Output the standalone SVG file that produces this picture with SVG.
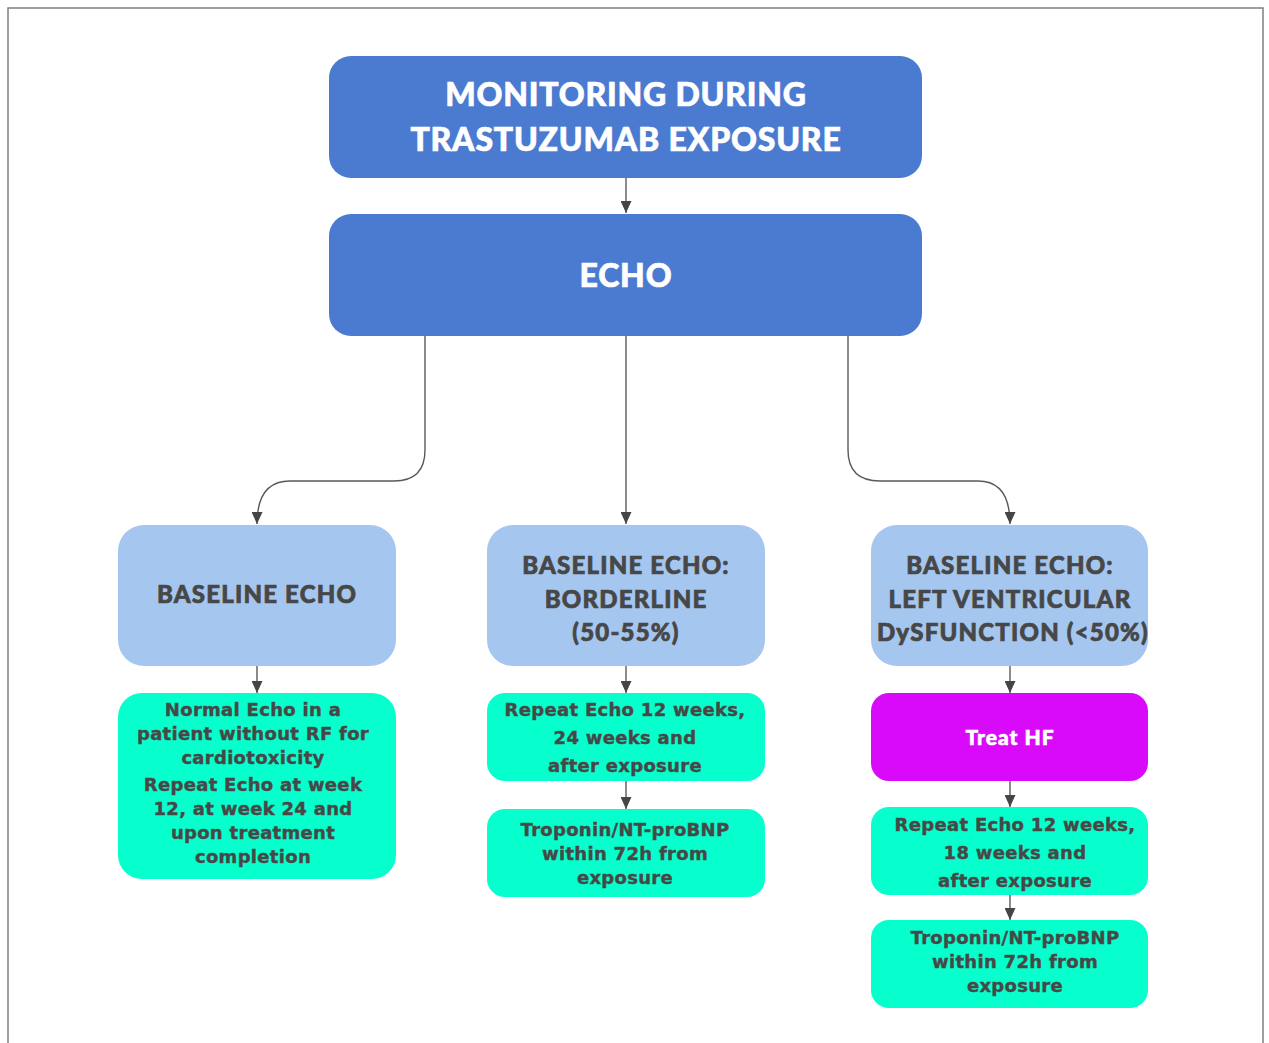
<svg xmlns="http://www.w3.org/2000/svg" width="1269" height="1043" viewBox="0 0 1269 1043">
  <style>
    .frame { fill: none; stroke: #7f7f7f; stroke-width: 1.5; }
    .dark { fill: #4a7bd0; }
    .light { fill: #a5c6ef; }
    .mint { fill: #06ffcc; }
    .magenta { fill: #d80af9; }
    .head { font-family: Lato, "Open Sans", sans-serif; font-weight: 900; text-anchor: middle; }
    .title { fill: #ffffff; stroke: #ffffff; stroke-width: 0.7px; font-size: 32px; letter-spacing: 0.8px; }
    .sub { fill: #474747; stroke: #474747; stroke-width: 0.7px; font-size: 24px; letter-spacing: 1.2px; }
    .hf { fill: #ffffff; stroke: #ffffff; stroke-width: 0.6px; font-size: 21px; letter-spacing: 1px; }
    .body { font-family: "DejaVu Sans", Verdana, sans-serif; font-weight: bold; font-size: 18px; fill: #474747; stroke: #474747; stroke-width: 0.4px; letter-spacing: 0.3px; text-anchor: middle; }
    .wire { fill: none; stroke: #5a5a5a; stroke-width: 1.4; }
  </style>
  <defs>
    <marker id="arrow" viewBox="0 0 12 11" refX="12" refY="5.5" markerWidth="12" markerHeight="11" markerUnits="userSpaceOnUse" orient="auto">
      <path d="M0,0 L12,5.5 L0,11 Z" fill="#454545"/>
    </marker>
  </defs>

  <rect width="1269" height="1043" fill="#ffffff"/>
  <!-- page frame, open at the bottom -->
  <path class="frame" d="M8,1043 V8 H1263 V1043"/>

  <!-- connectors -->
  <g id="connectors">
    <path class="wire" d="M626,178 V213" marker-end="url(#arrow)"/>
    <path class="wire" d="M425,336 V450 Q425,481 394,481 H290 Q257,481 257,524" marker-end="url(#arrow)"/>
    <path class="wire" d="M626,336 V524" marker-end="url(#arrow)"/>
    <path class="wire" d="M848,336 V450 Q848,481 880,481 H978 Q1010,481 1010,524" marker-end="url(#arrow)"/>
    <path class="wire" d="M257,666 V693" marker-end="url(#arrow)"/>
    <path class="wire" d="M626,666 V693" marker-end="url(#arrow)"/>
    <path class="wire" d="M626,781 V809" marker-end="url(#arrow)"/>
    <path class="wire" d="M1010,666 V693" marker-end="url(#arrow)"/>
    <path class="wire" d="M1010,781 V807" marker-end="url(#arrow)"/>
    <path class="wire" d="M1010,895 V920" marker-end="url(#arrow)"/>
  </g>

  <g id="monitoring">
    <rect class="dark" x="329" y="56" width="593" height="122" rx="22"/>
    <text class="head title" x="626" y="106">MONITORING DURING</text>
    <text class="head title" x="626" y="151">TRASTUZUMAB EXPOSURE</text>
  </g>

  <g id="echo">
    <rect class="dark" x="329" y="214" width="593" height="122" rx="22"/>
    <text class="head title" x="626" y="287">ECHO</text>
  </g>

  <g id="baseline-normal">
    <rect class="light" x="118" y="525" width="278" height="141" rx="26"/>
    <text class="head sub" x="257" y="603">BASELINE ECHO</text>
  </g>

  <g id="baseline-borderline">
    <rect class="light" x="487" y="525" width="278" height="141" rx="26"/>
    <text class="head sub" x="626" y="574">BASELINE ECHO:</text>
    <text class="head sub" x="626" y="608">BORDERLINE</text>
    <text class="head sub" x="626" y="641">(50-55%)</text>
  </g>

  <g id="baseline-lvd">
    <rect class="light" x="871" y="525" width="277" height="141" rx="26"/>
    <text class="head sub" x="1010" y="574">BASELINE ECHO:</text>
    <text class="head sub" x="1010" y="608">LEFT VENTRICULAR</text>
    <text class="head sub" x="1013" y="641">DySFUNCTION (&lt;50%)</text>
  </g>

  <g id="normal-plan">
    <rect class="mint" x="118" y="693" width="278" height="186" rx="24"/>
    <text class="body" x="253" y="716">Normal Echo in a</text>
    <text class="body" x="253" y="740">patient without RF for</text>
    <text class="body" x="253" y="764">cardiotoxicity</text>
    <text class="body" x="253" y="791">Repeat Echo at week</text>
    <text class="body" x="253" y="815">12, at week 24 and</text>
    <text class="body" x="253" y="839">upon treatment</text>
    <text class="body" x="253" y="863">completion</text>
  </g>

  <g id="borderline-repeat">
    <rect class="mint" x="487" y="693" width="278" height="88" rx="18"/>
    <text class="body" x="625" y="716">Repeat Echo 12 weeks,</text>
    <text class="body" x="625" y="744">24 weeks and</text>
    <text class="body" x="625" y="772">after exposure</text>
  </g>

  <g id="borderline-biomarkers">
    <rect class="mint" x="487" y="809" width="278" height="88" rx="18"/>
    <text class="body" x="625" y="836">Troponin/NT-proBNP</text>
    <text class="body" x="625" y="860">within 72h from</text>
    <text class="body" x="625" y="884">exposure</text>
  </g>

  <g id="treat-hf">
    <rect class="magenta" x="871" y="693" width="277" height="88" rx="18"/>
    <text class="head hf" x="1010" y="745">Treat HF</text>
  </g>

  <g id="lvd-repeat">
    <rect class="mint" x="871" y="807" width="277" height="88" rx="18"/>
    <text class="body" x="1015" y="831">Repeat Echo 12 weeks,</text>
    <text class="body" x="1015" y="859">18 weeks and</text>
    <text class="body" x="1015" y="887">after exposure</text>
  </g>

  <g id="lvd-biomarkers">
    <rect class="mint" x="871" y="920" width="277" height="88" rx="18"/>
    <text class="body" x="1015" y="944">Troponin/NT-proBNP</text>
    <text class="body" x="1015" y="968">within 72h from</text>
    <text class="body" x="1015" y="992">exposure</text>
  </g>
</svg>
